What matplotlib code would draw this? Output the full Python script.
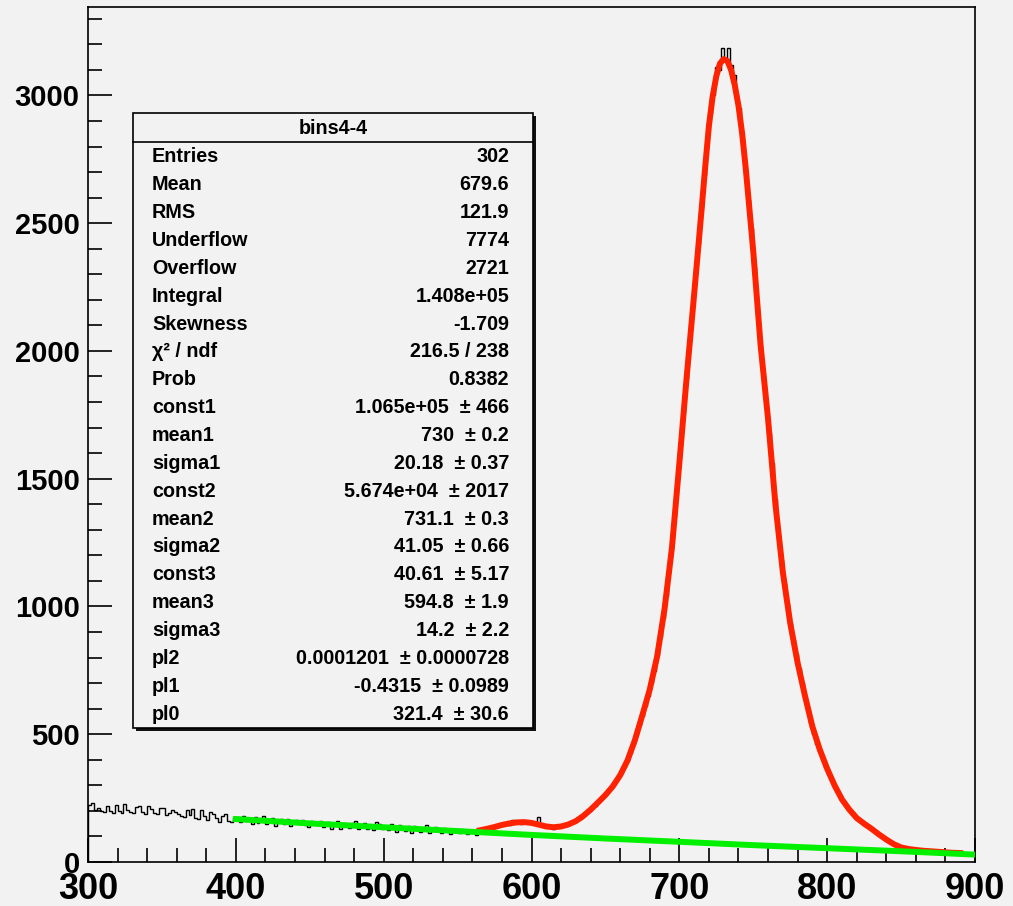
import numpy as np
import matplotlib.pyplot as plt
from matplotlib.patches import Rectangle
from matplotlib.ticker import MultipleLocator

# histogram bins4-4, bin width 2, counts (300..900)
hist_300 = [222, 231, 205, 210, 201, 196, 219, 200, 190, 224,
            198, 193, 228, 203, 195, 190, 214, 221, 197, 188,
            219, 206, 192, 186, 211, 213, 183, 191, 204, 195,
            188, 180, 176, 205, 183, 209, 172, 168, 205, 181,
            164, 197, 186, 171, 158, 180, 189, 162, 157, 171]
hist_400 = [176, 158, 181, 162, 171, 150, 178, 154, 166, 180,
            148, 165, 174, 142, 157, 170, 149, 168, 139, 155,
            166, 147, 163, 143, 138, 160, 150, 143, 162, 136,
            152, 158, 130, 147, 159, 128, 153, 139, 134, 154,
            160, 130, 141, 152, 131, 144, 126, 156, 148, 129]
hist_500 = [133, 124, 147, 131, 118, 144, 129, 121, 139, 115,
            141, 127, 117, 134, 145, 112, 125, 138, 122, 113,
            133, 120, 110, 131, 119, 112, 128, 116, 108, 125,
            117, 106, 121, 130, 124, 133, 126, 139, 141, 143,
            150, 152, 145, 163, 157, 162, 150, 160, 152, 158]
hist_600 = [148, 158, 176, 142, 137, 140, 133, 131, 138, 136,
            142, 141, 149, 152, 158, 166, 170, 182, 190, 200,
            212, 220, 236, 246, 258, 270, 280, 298, 312, 330,
            350, 372, 395, 428, 460, 500, 538, 570, 612, 650,
            700, 748, 812, 880, 955, 1040, 1130, 1232, 1350, 1495]
hist_700 = [1630, 1760, 1890, 2040, 2170, 2300, 2420, 2560, 2690, 2840,
            2930, 3000, 3110, 3100, 3186, 3140, 3186, 3120, 3080, 3000,
            2950, 2830, 2700, 2590, 2480, 2330, 2150, 2020, 1900, 1780,
            1680, 1560, 1420, 1280, 1180, 1090, 1010, 935, 870, 815,
            760, 700, 650, 600, 545, 500, 460, 435, 410, 370]
hist_800 = [345, 320, 300, 282, 262, 238, 222, 206, 196, 178,
            170, 158, 152, 140, 133, 124, 118, 108, 100, 92,
            84, 80, 70, 64, 60, 56, 54, 50, 48, 46,
            52, 45, 43, 41, 44, 40, 39, 42, 37, 36,
            40, 35, 34, 38, 33, 32, 30, 34, 29, 30]
hist_counts = hist_300 + hist_400 + hist_500 + hist_600 + hist_700 + hist_800
bin_edges = np.arange(300, 902, 2)

# total fit (red)
fit_x = [565, 570, 575, 580, 585, 590, 595, 600, 605, 610,
         615, 620, 625, 630, 635, 640, 645, 650, 655, 660,
         665, 670, 675, 680, 685, 690, 695, 700, 705, 710,
         715, 717.5, 720, 722.5, 725, 727.5, 730, 732.5, 735, 737.5,
         740, 742.5, 745, 750, 755, 760, 765, 770, 775, 780,
         785, 790, 795, 800, 805, 810, 815, 820, 825, 830,
         835, 840, 845, 850, 855, 860, 865, 870, 875, 880,
         885, 890]
fit_y = [124, 130, 137, 145, 151, 155, 156, 153, 146, 139,
         136, 139, 147, 160, 180, 205, 233, 262, 296, 340,
         398, 478, 575, 675, 805, 990, 1230, 1560, 1900, 2220,
         2550, 2720, 2880, 2995, 3075, 3125, 3142, 3135, 3100, 3040,
         2960, 2850, 2710, 2390, 2020, 1735, 1400, 1135, 935, 780,
         650, 530, 440, 365, 300, 245, 205, 172, 150, 130,
         108, 88, 70, 57, 51, 47, 44, 42, 40, 38,
         36, 35]

# background pol2 (green)
bkg_x = [400, 450, 500, 550, 600, 650, 700, 750, 800, 850, 900]
bkg_y = [168, 151, 136, 121, 106, 92, 79, 66, 54, 42, 29]

stat_title = "bins4-4"
stat_labels = ["Entries", "Mean", "RMS", "Underflow", "Overflow", "Integral",
               "Skewness", "χ² / ndf", "Prob", "const1", "mean1", "sigma1",
               "const2", "mean2", "sigma2", "const3", "mean3", "sigma3",
               "pl2", "pl1", "pl0"]
stat_values = ["302", "679.6", "121.9", "7774", "2721", "1.408e+05",
               "-1.709", "216.5 / 238", "0.8382",
               "1.065e+05  ± 466", "730  ± 0.2", "20.18  ± 0.37",
               "5.674e+04  ± 2017", "731.1  ± 0.3", "41.05  ± 0.66",
               "40.61  ± 5.17", "594.8  ± 1.9", "14.2  ± 2.2",
               "0.0001201  ± 0.0000728", "-0.4315  ± 0.0989", "321.4  ± 30.6"]

W, H = 1013, 906
bg = '#f2f2f2'
font = 'Liberation Sans'

def fpos(px, py):
    return px / W, 1 - py / H

fig = plt.figure(figsize=(W / 100, H / 100), dpi=100, facecolor=bg)
ax = fig.add_axes([88 / W, 44 / H, 887 / W, 855 / H])
ax.set_facecolor(bg)

ax.stairs(hist_counts, bin_edges, color='black', lw=1.0, zorder=2)
ax.plot(fit_x, fit_y, color='#ff2200', lw=4.3, zorder=3)
ax.plot(bkg_x, bkg_y, color='#00f000', lw=4.3, zorder=4)

ax.set_xlim(300, 900)
ax.set_ylim(0, 3346)
ax.set_xticks(range(300, 901, 100))
ax.set_yticks(range(0, 3001, 500))
ax.xaxis.set_minor_locator(MultipleLocator(20))
ax.yaxis.set_minor_locator(MultipleLocator(100))
ax.tick_params(which='major', direction='in', length=17, width=1.2)
ax.tick_params(which='minor', direction='in', length=10, width=1.2)
ax.tick_params(axis='x', pad=7)
ax.tick_params(axis='y', pad=6)
for lab in ax.get_xticklabels():
    lab.set_fontsize(26)
    lab.set_fontweight('bold')
    lab.set_family(font)
for lab in ax.get_yticklabels():
    lab.set_fontsize(21)
    lab.set_fontweight('bold')
    lab.set_family(font)
for sp in ax.spines.values():
    sp.set_linewidth(1.2)

# stats box
x0, x1, y0, y1 = 133, 533, 113, 728
shadow = Rectangle(fpos(x0 + 3, y1 + 3), (x1 - x0) / W, (y1 - y0) / H,
                   transform=fig.transFigure, facecolor='#111111',
                   edgecolor='none', zorder=5)
box = Rectangle(fpos(x0, y1), (x1 - x0) / W, (y1 - y0) / H,
                transform=fig.transFigure, facecolor=bg,
                edgecolor='black', lw=1.2, zorder=6)
fig.add_artist(shadow)
fig.add_artist(box)
fig.add_artist(plt.Line2D([x0 / W, x1 / W], [1 - 142 / H, 1 - 142 / H],
                          transform=fig.transFigure, color='black', lw=1.2, zorder=7))
fig.text(*fpos((x0 + x1) / 2, 128), stat_title, ha='center', va='center',
         fontsize=14.2, fontweight='bold', family=font, zorder=8)

row0, row_step = 157, (714 - 157) / 20
for i, (lab, val) in enumerate(zip(stat_labels, stat_values)):
    py = row0 + i * row_step
    fig.text(*fpos(152, py), lab, ha='left', va='center', fontsize=14.2,
             fontweight='bold', family=font, zorder=8)
    fig.text(*fpos(509, py), val, ha='right', va='center', fontsize=14.2,
             fontweight='bold', family=font, zorder=8)

fig.savefig('out.png', dpi=100, facecolor=bg)
